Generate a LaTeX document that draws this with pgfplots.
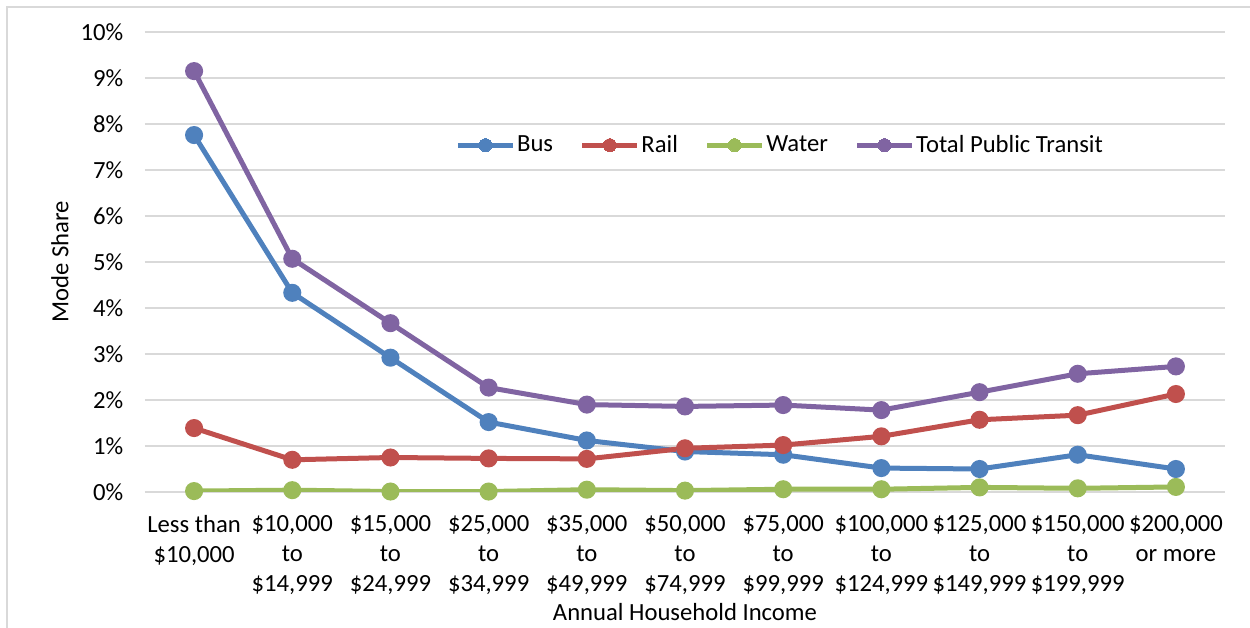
\documentclass[border=0pt]{standalone}
\usepackage{pgfplots}
\pgfplotsset{compat=1.18}
\usepackage{fontspec}
\setmainfont{Carlito}

\definecolor{busc}{HTML}{4F81BD}
\definecolor{railc}{HTML}{C0504D}
\definecolor{waterc}{HTML}{9BBB59}
\definecolor{totalc}{HTML}{8064A2}
\definecolor{gridc}{HTML}{D9D9D9}

\begin{document}
\begin{tikzpicture}
\path[use as bounding box] (-87pt,-81.6pt) rectangle (663pt,295.2pt);
\draw[gridc, line width=0.8pt] (-82.8pt,-81.6pt) -- (-82.8pt,291pt) -- (663pt,291pt);
\begin{axis}[
    at={(0,0)}, anchor=south west,
    scale only axis, width=648pt, height=276pt,
    xmin=-0.5, xmax=10.5, ymin=0, ymax=10,
    xtick={0,...,10},
    xticklabels={{Less than\\\$10,000}, {\$10,000\\to\\\$14,999}, {\$15,000\\to\\\$24,999},
        {\$25,000\\to\\\$34,999}, {\$35,000\\to\\\$49,999}, {\$50,000\\to\\\$74,999},
        {\$75,000\\to\\\$99,999}, {\$100,000\\to\\\$124,999}, {\$125,000\\to\\\$149,999},
        {\$150,000\\to\\\$199,999}, {\$200,000\\or more}},
    ytick={0,...,10},
    yticklabel={\pgfmathprintnumber{\tick}\%},
    /pgf/number format/assume math mode=true,
    xticklabel style={align=center, anchor=north, yshift=-10.5pt,
        font=\fontsize{14.8}{18}\selectfont},
    yticklabel style={anchor=east, xshift=-9.5pt, font=\fontsize{14.8}{18}\selectfont},
    axis line style={draw=none},
    tick style={draw=none},
    ymajorgrids, major grid style={gridc, line width=0.9pt},
    xlabel={Annual Household Income},
    ylabel={Mode Share},
    xlabel style={at={(rel axis cs:0.5,0)}, anchor=center, yshift=-72pt,
        font=\fontsize{14.8}{18}\selectfont},
    ylabel style={at={(rel axis cs:0,0.5)}, anchor=center, yshift=51pt,
        font=\fontsize{14.8}{18}\selectfont},
    every axis plot/.append style={line width=3pt, mark=*, mark size=3.9pt},
    legend style={at={(rel axis cs:0.588,0.754)}, anchor=center, draw=none,
        fill=none, legend columns=4,
        nodes={inner xsep=1pt},
        /tikz/every even column/.append style={column sep=15pt},
        /tikz/every odd column/.append style={column sep=0pt},
        font=\fontsize{14.8}{18}\selectfont},
    legend image code/.code={
        \draw[#1, mark=none] (0pt,0pt) -- (33pt,0pt);
        \draw[#1, line width=0pt] plot coordinates {(16.5pt,0pt)};
    },
]
\addplot[color=busc] coordinates {
    (0,7.76) (1,4.33) (2,2.92) (3,1.52) (4,1.12) (5,0.88) (6,0.81) (7,0.52) (8,0.50) (9,0.81) (10,0.50)
};
\addplot[color=railc] coordinates {
    (0,1.39) (1,0.70) (2,0.75) (3,0.73) (4,0.72) (5,0.95) (6,1.02) (7,1.21) (8,1.57) (9,1.67) (10,2.13)
};
\addplot[color=waterc] coordinates {
    (0,0.02) (1,0.04) (2,0.01) (3,0.01) (4,0.05) (5,0.03) (6,0.06) (7,0.06) (8,0.10) (9,0.08) (10,0.11)
};
\addplot[color=totalc] coordinates {
    (0,9.15) (1,5.07) (2,3.67) (3,2.27) (4,1.90) (5,1.86) (6,1.89) (7,1.78) (8,2.17) (9,2.57) (10,2.73)
};
\legend{Bus, Rail, Water, Total Public Transit}
\end{axis}
\end{tikzpicture}
\end{document}
